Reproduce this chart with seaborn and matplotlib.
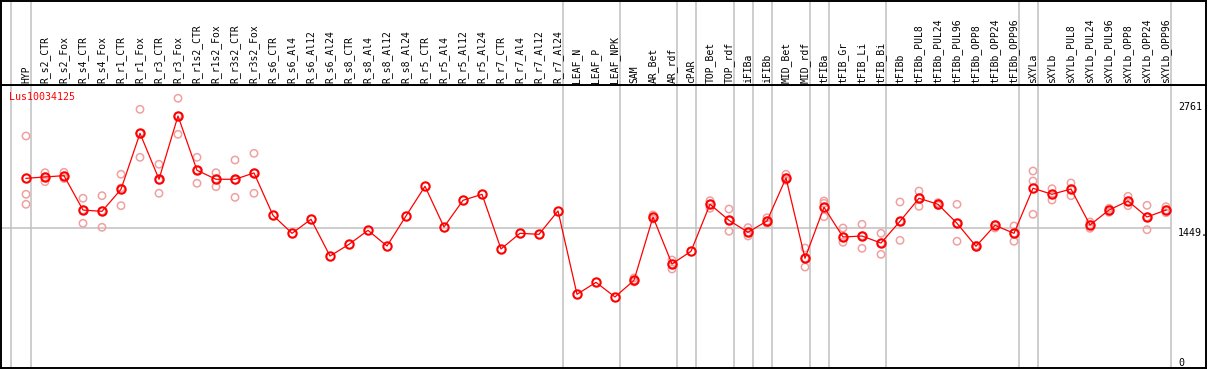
import numpy as np
import pandas as pd
import matplotlib
matplotlib.use("Agg")
import matplotlib.pyplot as plt
import seaborn as sns

nan = np.nan

categories = [
    "HYP", "R_s2_CTR", "R_s2_Fox", "R_s4_CTR", "R_s4_Fox", "R_r1_CTR", "R_r1_Fox",
    "R_r3_CTR", "R_r3_Fox", "R_r1s2_CTR", "R_r1s2_Fox", "R_r3s2_CTR", "R_r3s2_Fox",
    "R_s6_CTR", "R_s6_Al4", "R_s6_Al12", "R_s6_Al24", "R_s8_CTR", "R_s8_Al4",
    "R_s8_Al12", "R_s8_Al24", "R_r5_CTR", "R_r5_Al4", "R_r5_Al12", "R_r5_Al24",
    "R_r7_CTR", "R_r7_Al4", "R_r7_Al12", "R_r7_Al24", "LEAF_N", "LEAF_P", "LEAF_NPK",
    "SAM", "AR_Bet", "AR_rdf", "cPAR", "TOP_Bet", "TOP_rdf", "iFIBa", "iFIBb",
    "MID_Bet", "MID_rdf", "tFIBa", "tFIB_Gr", "tFIB_Li", "tFIB_Bi", "tFIBb",
    "tFIBb_PUL8", "tFIBb_PUL24", "tFIBb_PUL96", "tFIBb_OPP8", "tFIBb_OPP24",
    "tFIBb_OPP96", "sXYLa", "sXYLb", "sXYLb_PUL8", "sXYLb_PUL24", "sXYLb_PUL96",
    "sXYLb_OPP8", "sXYLb_OPP24", "sXYLb_OPP96",
]

means = [
    1987, 2002, 2016, 1645, 1631, 1869, 2473, 1977, 2660, 2074, 1977, 1977, 2045,
    1588, 1394, 1545, 1149, 1275, 1426, 1257, 1581, 1901, 1462, 1750, 1815,
    1225, 1394, 1383, 1635, 736, 865, 707,
    887, 1570, 1063, 1200, 1707, 1534, 1405, 1527,
    1991, 1124, 1675, 1354, 1365, 1289, 1524,
    1772, 1707, 1502, 1254, 1480, 1394,
    1880, 1815, 1872, 1484, 1645, 1743, 1570, 1645,
]

rep1 = [
    2444, 2048, 2052, 1772, 1800, 2031, 2732, 2139, 2851, 2214, 2048, 2185, 2257,
    nan, nan, nan, nan, nan, nan, nan, nan, nan, nan, nan, nan,
    nan, nan, nan, nan, nan, nan, nan,
    912, 1592, 1106, nan, 1746, 1656, 1455, 1562,
    2031, 1235, 1743, 1451, 1491, 1394, 1732,
    1850, 1725, 1707, 1262, 1487, 1473,
    2066, 1875, 1937, 1516, 1664, 1793, 1696, 1681,
]
rep2 = [
    1815, 1951, 2012, 1502, 1459, 1692, 2214, 1826, 2462, 1934, 1897, 1782, 1826,
    nan, nan, nan, nan, nan, nan, nan, nan, nan, nan, nan, nan,
    nan, nan, nan, nan, nan, nan, nan,
    869, 1548, 1009, nan, 1664, 1416, 1365, 1502,
    1966, 1030, 1573, 1297, 1232, 1167, 1318,
    1685, 1694, 1308, 1246, 1451, 1308,
    1958, 1753, 1800, 1448, 1621, 1692, 1433, 1616,
]
rep3 = [
    1707, 2002, 1985, 1645, 1635, 1883, 2473, 1969, 2660, 2074, 1980, 1969, 2045,
    nan, nan, nan, nan, nan, nan, nan, nan, nan, nan, nan, nan,
    nan, nan, nan, nan, nan, nan, nan,
    887, 1570, 1063, nan, 1707, 1534, 1405, 1527,
    1991, 1124, 1718, 1354, 1365, 1289, 1524,
    1772, 1707, 1502, 1254, 1480, 1394,
    1599, 1815, 1872, 1484, 1645, 1743, 1570, 1645,
]

# group separators: after these category indices (plus one at the far left)
separators_after = [0, 28, 31, 34, 35, 37, 38, 39, 41, 42, 45, 52, 53, 60]
tick_values = [0, 1449, 2761]
tick_labels = ["0", "1449.", "2761"]
gene_name = "Lus10034125"

# ---------------------------------------------------------------
W, H = 1209, 370
fig = plt.figure(figsize=(W / 100, H / 100), dpi=100)

def px_x(p):  # pixel -> category index units
    return (p - 26) / 19.0

x_left, x_right = px_x(1), px_x(1206)
line_px = 85
ax_plot = fig.add_axes([1 / W, (H - 368) / H, (1206 - 1) / W, (368 - line_px) / H])
ax_top = fig.add_axes([1 / W, (H - line_px) / H, (1206 - 1) / W, (line_px - 0.5) / H])

scale = 10.79
ylim_top = (362.5 - line_px) * scale
ylim_bot = (362.5 - 368) * scale

idx = np.arange(len(categories))
df_mean = pd.DataFrame({"x": idx, "y": means})
df_rep = pd.DataFrame({
    "x": np.concatenate([idx, idx, idx]),
    "y": np.concatenate([rep1, rep2, rep3]),
}).dropna()

grey = "#c0c0c0"
mono = "DejaVu Sans Mono"

for ax in (ax_plot, ax_top):
    ax.set_xlim(x_left, x_right)
    ax.set_xticks([])
    ax.set_yticks([])
    ax.set_facecolor("white")
    for s in ax.spines.values():
        s.set_color("black")
        s.set_linewidth(1.4)
    seps = [-0.8] + [i + 0.26 for i in separators_after]
    for s in seps:
        ax.axvline(s, color=grey, lw=1.1, zorder=0)

ax_top.set_ylim(0, 1)
ax_plot.set_ylim(ylim_bot, ylim_top)
ax_plot.axhline(1449, xmin=0, xmax=(1170 - 1) / (1206 - 1), color=grey, lw=1.1, zorder=0)

sns.scatterplot(data=df_rep, x="x", y="y", ax=ax_plot, marker="o", s=28,
                facecolor="none", edgecolor="#f0a0a0", linewidth=1.1, zorder=2,
                legend=False)
sns.lineplot(data=df_mean, x="x", y="y", ax=ax_plot, color="red", lw=0.9,
             marker="o", markersize=6, markerfacecolor="none",
             markeredgecolor="red", markeredgewidth=1.5, zorder=3,
             legend=False)
ax_plot.set_xlabel("")
ax_plot.set_ylabel("")
ax_plot.set_xlim(x_left, x_right)
ax_plot.set_ylim(ylim_bot, ylim_top)

for i, lab in enumerate(categories):
    ax_top.text(i, 2 / 85, lab, rotation=90, ha="center", va="bottom",
                fontsize=7, family=mono, color="black")

ax_plot.text(px_x(9), (362.5 - 97) * scale, gene_name, ha="left", va="center",
             fontsize=7.2, family=mono, color="red")

for v, lab in zip(tick_values, tick_labels):
    yy = v
    va = "center"
    if lab.startswith("1449"):
        va = "top"
        yy = v + 0.5 * scale
    ax_plot.text(px_x(1178), yy, lab, ha="left", va=va, fontsize=7.2,
                 family=mono, color="black", clip_on=True)

fig.savefig("out.png", dpi=100, facecolor="white")
